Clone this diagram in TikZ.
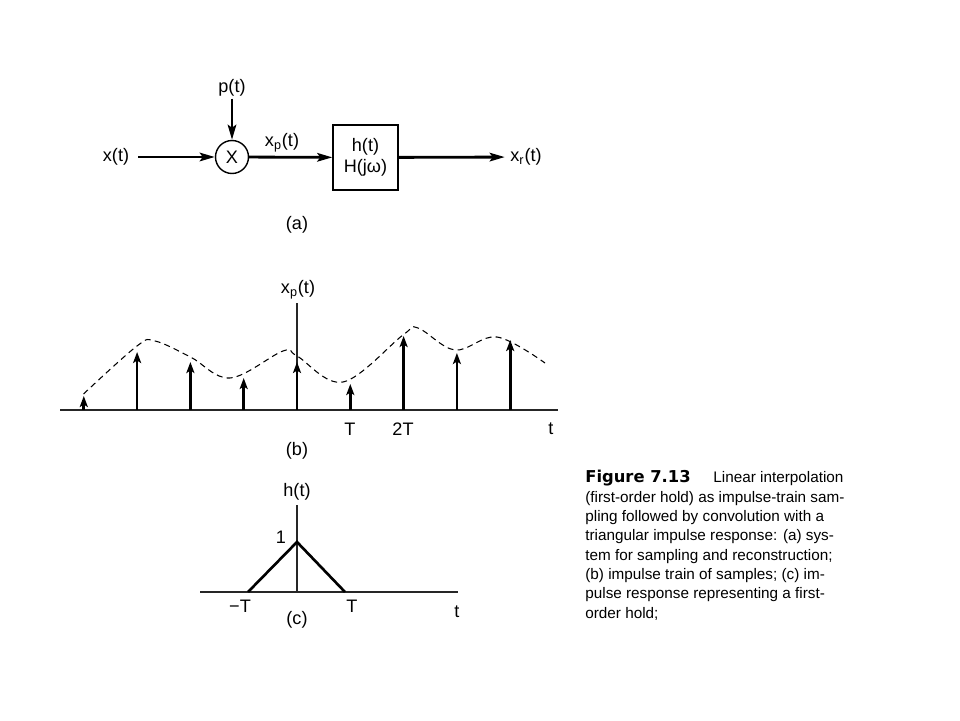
\documentclass[tikz,border=0pt]{standalone}
\usepackage{fontspec}
\setmainfont{Liberation Sans}
\newfontfamily\figfont{DejaVu Sans}
\usetikzlibrary{arrows.meta,positioning}

\tikzset{
  sig/.style={line width=1.6pt,-{Stealth[length=3mm,width=1.7mm,inset=0.6mm]}},
  imp/.style={line width=1.5pt,-{Stealth[length=2.2mm,width=1.6mm,inset=0.5mm]}},
  axis/.style={line width=0.8pt,black!85},
  lbl/.style={font=\fontsize{10.3}{12}\selectfont,inner sep=1pt},
}

\begin{document}
\begin{tikzpicture}
    \useasboundingbox (0,0) rectangle (19.2,14.4);
    % (a) sampling and reconstruction
    \node[lbl,inner xsep=5pt] (xin) at (2.32,11.26) {x(t)};
    \node[lbl,draw,circle,line width=0.8pt,minimum size=0.66cm,inner sep=0pt] (mult) at (4.64,11.26) {X};
    \node[lbl] (pin) at (4.64,12.64) {p(t)};
    \node[lbl,draw,line width=0.8pt,minimum width=1.3cm,minimum height=1.3cm,align=center] (hblk) at (7.31,11.25) {h(t)\\H(jω)};
    \node[lbl,inner xsep=3pt] (xout) at (10.52,11.26) {x\textsubscript{r}(t)};
    \node[lbl] (xplbl) at (5.64,11.54) {x\textsubscript{p}(t)};
    \draw[sig] (xin) -- (mult);
    \draw[sig] (pin) -- (mult);
    \draw[sig] (mult) -- (hblk);
    \draw[sig] (hblk) -- (xout);
    \node[lbl] (capa) at (5.94,9.9) {(a)};
    % (b) impulse train of samples
    \draw[axis] (1.2,6.2) -- (11.16,6.2);
    \draw[axis,line width=0.6pt] (5.94,6.2) -- (5.94,8.34);
    \node[lbl] (xpaxis) at (5.96,8.6) {x\textsubscript{p}(t)};
    \draw[line width=0.6pt,dash pattern=on 3.4pt off 2.4pt] plot[smooth,tension=0.6] coordinates {
        (1.67,6.52) (2.74,7.48) (3.10,7.58) (3.81,7.26) (4.60,6.84) (5.66,7.38) (5.94,7.28)
        (6.86,6.76) (8.06,7.70) (8.36,7.84) (9.10,7.40) (9.94,7.66) (10.90,7.14)};
    \foreach \k/\h in {-4/0.28,-3/1.16,-2/0.96,-1/0.64,0/0.96,1/0.52,2/1.48,3/1.14,4/1.4}
        \draw[imp] (5.94+\k*1.066,6.2) -- ++(0,\h);
    \node[lbl] (tb1) at (7.0,5.82) {T};
    \node[lbl] (tb2) at (8.06,5.82) {2T};
    \node[lbl] (tbt) at (11.02,5.82) {t};
    \node[lbl] (capb) at (5.94,5.38) {(b)};
    % (c) first-order hold
    \draw[axis] (4.0,2.56) -- (9.16,2.56);
    \draw[axis,line width=0.6pt] (5.94,2.56) -- (5.94,4.3);
    \draw[line width=1.5pt] (4.96,2.56) -- (5.94,3.56) -- (6.9,2.56);
    \node[lbl] (haxis) at (5.94,4.56) {h(t)};
    \node[lbl] (hone) at (5.62,3.66) {1};
    \node[lbl] (tcm) at (4.8,2.28) {−T};
    \node[lbl] (tcp) at (7.04,2.28) {T};
    \node[lbl] (tct) at (9.14,2.16) {t};
    \node[lbl] (capc) at (5.94,2.0) {(c)};
    % caption
    \node[anchor=north west,inner sep=0pt,align=left,font=\fontsize{8.7}{11}\selectfont] (figcap) at (11.7,5.0)
        {{\figfont\bfseries\fontsize{9.3}{11}\selectfont Figure 7.13}\hspace{13pt}Linear interpolation\\
         (first-order hold) as impulse-train sam-\\
         pling followed by convolution with a\\
         triangular impulse response: (a) sys-\\
         tem for sampling and reconstruction;\\
         (b) impulse train of samples; (c) im-\\
         pulse response representing a first-\\
         order hold;};
\end{tikzpicture}
\end{document}
